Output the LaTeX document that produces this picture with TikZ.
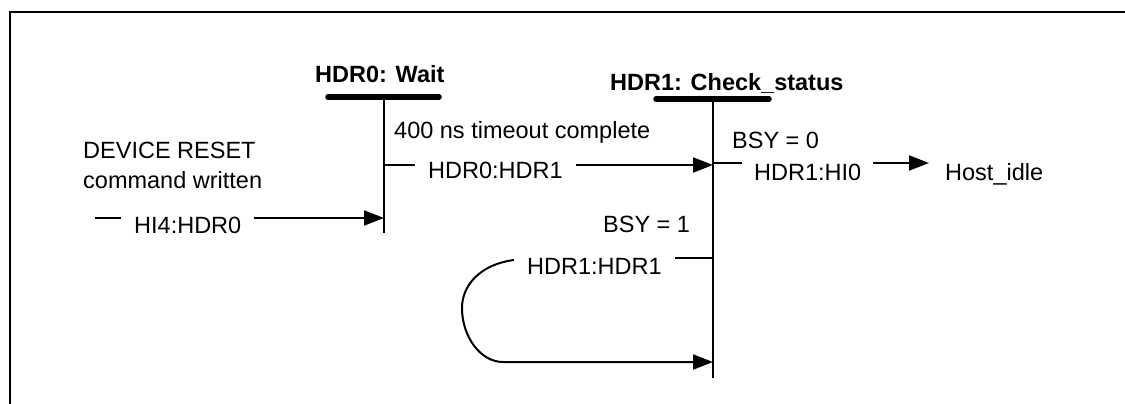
\documentclass[tikz,border=0pt]{standalone}
\usepackage{fontspec}
\setmainfont{Liberation Sans}
\usetikzlibrary{arrows.meta,positioning}

\begin{document}
\begin{tikzpicture}[
    x=1pt, y=-1pt,
    txt/.style={font=\fontsize{23.5}{30}\selectfont, inner sep=0pt, anchor=base west},
    statename/.style={txt, font=\fontsize{23.5}{30}\selectfont\bfseries},
    trans/.style={txt, inner xsep=13pt},
    bar/.style={line width=5.5pt, line cap=round},
    wire/.style={line width=2pt},
    arrow/.style={wire, -{Triangle[length=20pt, width=15pt]}}
]
\useasboundingbox (0,0) rectangle (1125,404);
\draw[line width=2.5pt] (10,404) -- (10,12) -- (1125,12);

% states
\node[statename] (s0) at (315,83) {HDR0: Wait};
\node[statename] (s1) at (610,90.5) {HDR1: Check\_status};
\coordinate (wtop) at (384,98);
\coordinate (wbot) at (384,233);
\coordinate (ctop) at (713,99);
\coordinate (cbot) at (713,378);
\draw[bar] (328,97) -- (439,97);
\draw[bar] (656,99) -- (769,99);
\draw[wire] (wtop) -- (wbot);
\draw[wire] (ctop) -- (cbot);

% conditions
\node[txt, align=left] (reset) at (83,188) {DEVICE RESET\\command written};
\node[txt] (timeout) at (394,138) {400 ns timeout complete};
\node[txt] (bsy0) at (732,148) {BSY = 0};
\node[txt] (bsy1) at (603,232) {BSY = 1};

% transitions
\coordinate (in0) at (95,218);
\coordinate (w1) at (384,165);
\coordinate (c1) at (713,163);
\coordinate (c2) at (713,258);
\coordinate (c3) at (713,362);
\node[trans] (t40) at (121,233) {HI4:HDR0};
\node[trans] (t01) at (415,178) {HDR0:HDR1};
\node[trans, inner xsep=12pt] (t1i) at (742,180) {HDR1:HI0};
\node[trans] (t11) at (514,274) {HDR1:HDR1};
\node[trans, inner xsep=16pt] (idle) at (929,180) {Host\_idle};

\draw[wire] (in0) -- (t40.west |- in0);
\draw[arrow] (t40.east |- in0) -- (wtop |- in0);
\draw[wire] (w1) -- (t01.west |- w1);
\draw[arrow] (t01.east |- w1) -- (ctop |- w1);
\draw[wire] (c1) -- (t1i.west |- c1);
\draw[arrow] (t1i.east |- c1) -- (idle.west |- c1);
\draw[wire] (c2) -- (t11.east |- c2);
\draw[arrow] (t11.west |- 0,260) .. controls (482,264) and (462,284) .. (462,308)
    .. controls (462,336) and (480,362) .. (503,362) -- (c3);
\end{tikzpicture}
\end{document}
